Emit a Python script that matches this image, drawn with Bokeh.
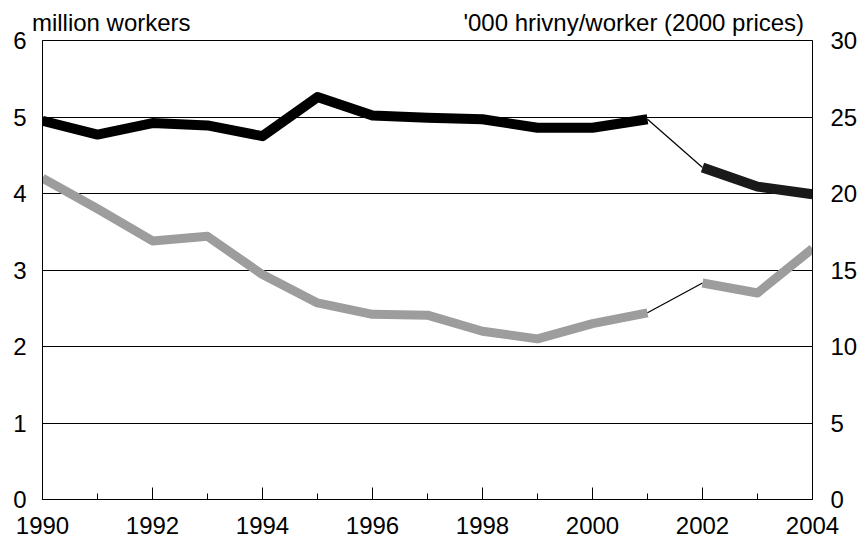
from bokeh.plotting import figure
from bokeh.models import Range1d, LinearAxis, FixedTicker
from bokeh.embed import file_html
from bokeh.resources import INLINE

# ---- data ----
years = [1990, 1991, 1992, 1993, 1994, 1995, 1996, 1997, 1998, 1999, 2000, 2001, 2002, 2003, 2004]
# employment, million workers (left axis)
employment = [4.95, 4.77, 4.92, 4.89, 4.75, 5.26, 5.02, 4.99, 4.97, 4.86, 4.86, 4.97, 4.34, 4.09, 3.99]
# productivity, '000 hrivny per worker, 2000 prices (right axis)
productivity = [21.0, 19.0, 16.9, 17.2, 14.7, 12.85, 12.1, 12.05, 11.0, 10.5, 11.5, 12.2, 14.15, 13.5, 16.4]
x_major = [1990, 1992, 1994, 1996, 1998, 2000, 2002, 2004]
x_minor = [1991, 1993, 1995, 1997, 1999, 2001, 2003]
left_ticks = [0, 1, 2, 3, 4, 5, 6]
right_ticks = [0, 5, 10, 15, 20, 25, 30]
left_unit = "million workers"
right_unit = "'000 hrivny/worker (2000 prices)"
break_idx = 11  # series break between 2001 and 2002

FONT = "Liberation Sans"
W, H = 863, 543
BL, BR, BT, BB = 42, 51, 40, 44  # borders around the plot frame

p = figure(width=W, height=H, output_backend="svg", toolbar_location=None,
           x_range=Range1d(1990, 2004), y_range=Range1d(0, 6),
           min_border_left=BL, min_border_right=BR, min_border_top=BT, min_border_bottom=BB,
           background_fill_color="white", border_fill_color="white")
p.outline_line_color = "black"
p.outline_line_width = 1
p.outline_line_alpha = 1

p.extra_y_ranges = {"right": Range1d(0, 30)}


def style_labels(ax):
    ax.major_label_text_font = FONT
    ax.major_label_text_font_size = "24px"
    ax.major_label_text_color = "black"


# x axis
xa = p.xaxis[0]
xa.ticker = FixedTicker(ticks=x_major, minor_ticks=x_minor)
xa.major_tick_in = 12
xa.major_tick_out = 0
xa.minor_tick_in = 6
xa.minor_tick_out = 0
xa.major_label_standoff = 17
style_labels(xa)
xa.axis_line_color = "black"
xa.major_tick_line_color = "black"
xa.minor_tick_line_color = "black"

# left axis
ya = p.yaxis[0]
ya.ticker = FixedTicker(ticks=left_ticks)
ya.major_tick_in = 0
ya.major_tick_out = 0
ya.minor_tick_line_color = None
ya.major_label_standoff = 16
style_labels(ya)
ya.axis_line_color = "black"

# right axis
ra = LinearAxis(y_range_name="right", ticker=FixedTicker(ticks=right_ticks))
ra.major_tick_in = 0
ra.major_tick_out = 0
ra.minor_tick_line_color = None
ra.major_label_standoff = 18
style_labels(ra)
ra.axis_line_color = "black"
p.add_layout(ra, "right")

# unit captions above the frame: an axis above with two labelled positions
# (positions chosen so the captions sit left- and right-justified like the original)
left_pos, right_pos = 1991.25, 2000.75
ta = LinearAxis(ticker=FixedTicker(ticks=[left_pos, right_pos], minor_ticks=[]),
                major_label_overrides={left_pos: left_unit, right_pos: right_unit})
ta.axis_line_color = None
ta.major_tick_line_color = None
ta.minor_tick_line_color = None
ta.major_tick_in = 0
ta.major_tick_out = 0
ta.major_label_standoff = 5
style_labels(ta)
p.add_layout(ta, "above")

# grid
p.xgrid.grid_line_color = None
p.ygrid.ticker = FixedTicker(ticks=left_ticks)
p.ygrid.grid_line_color = "black"
p.ygrid.grid_line_width = 1

# lines: employment (black)
b = break_idx
p.line(years[:b + 1], employment[:b + 1], line_color="black", line_width=10, line_join="round")
p.line(years[b:b + 2], employment[b:b + 2], line_color="black", line_width=1.2)
p.line(years[b + 1:], employment[b + 1:], line_color="#1a1a1a", line_width=10, line_join="round")

# lines: productivity (grey, right axis)
p.line(years[:b + 1], productivity[:b + 1], line_color="#9d9d9d", line_width=9,
       line_join="round", y_range_name="right")
p.line(years[b:b + 2], productivity[b:b + 2], line_color="black", line_width=1.2,
       y_range_name="right")
p.line(years[b + 1:], productivity[b + 1:], line_color="#9d9d9d", line_width=9,
       line_join="round", y_range_name="right")

open("out.html", "w").write(file_html(p, INLINE))
